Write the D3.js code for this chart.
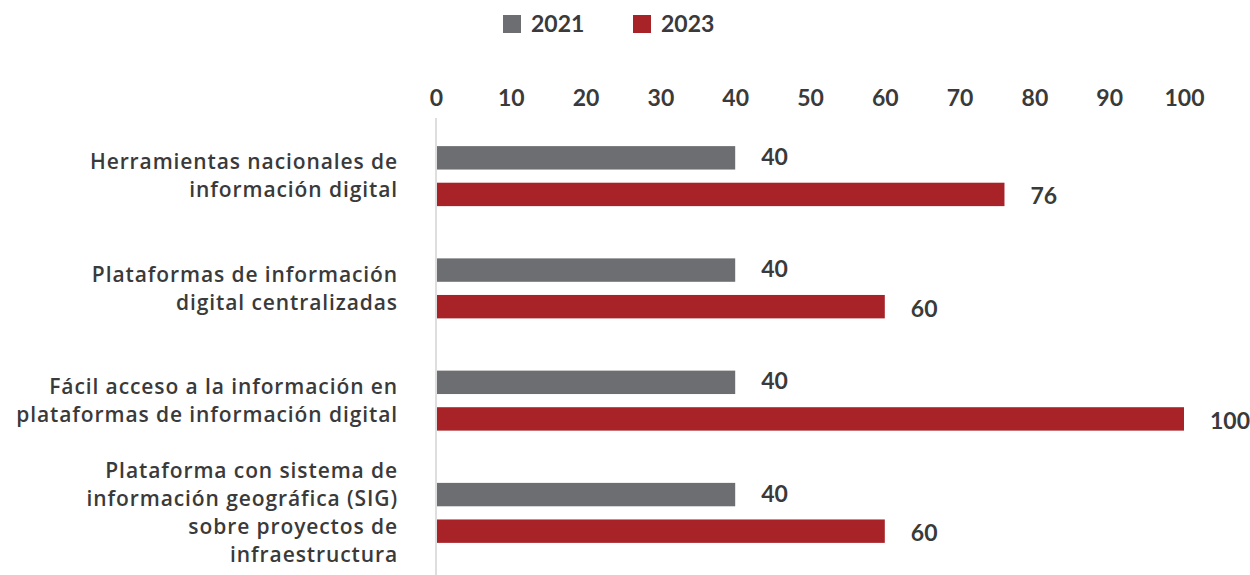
<!DOCTYPE html>
<html>
<head>
<meta charset="utf-8">
<script src="https://cdn.jsdelivr.net/npm/d3@7"></script>
<style>
  body { margin: 0; background: #fff; }
  svg text { font-family: Lato, "Open Sans", sans-serif; font-weight: 700; fill: #3a3a3a; }
  svg text.cat { font-family: "Open Sans", Lato, sans-serif; font-weight: 600; letter-spacing: 0.9px; }
</style>
</head>
<body>
<svg width="1250" height="575"></svg>
<script>
// data
var categories = [
    ["Herramientas nacionales de", "información digital"],
    ["Plataformas de información", "digital centralizadas"],
    ["Fácil acceso a la información en", "plataformas de información digital"],
    ["Plataforma con sistema de", "información geográfica (SIG)", "sobre proyectos de", "infraestructura"]
];
var seriesNames = ["2021", "2023"];
var values2021 = [40, 40, 40, 40];
var values2023 = [76, 60, 100, 60];
var tickValues = [0, 10, 20, 30, 40, 50, 60, 70, 80, 90, 100];
var colors = ["#6d6e71", "#a82328"];

(function() {
    var svg = d3.select("svg"),
        plotLeft = 436,
        plotRight = 1184,
        plotTop = 120,
        plotBottom = 569,
        numFs = "23px",
        catFs = "21px";

    var x = d3.scaleLinear().domain([0, 100]).range([plotLeft, plotRight]);
    var y = d3.scaleBand().domain(d3.range(categories.length)).range([plotTop, plotBottom]);
    var inner = d3.scaleBand().domain(seriesNames)
        .range([y.bandwidth() / 2 - 30, y.bandwidth() / 2 + 30])
        .paddingInner(0.36).paddingOuter(0);

    // top axis
    var axis = svg.append("g")
        .attr("transform", "translate(0,106)")
        .call(d3.axisTop(x).tickValues(tickValues).tickSize(0).tickPadding(0));
    axis.select(".domain").remove();
    axis.selectAll("text").style("font-size", numFs).attr("fill", "#3a3a3a");

    // vertical baseline
    svg.append("line")
        .attr("x1", x(0)).attr("x2", x(0))
        .attr("y1", 118).attr("y2", 575)
        .attr("stroke", "#c8c8c8").attr("stroke-width", 1.2);

    var data = categories.map(function(c, i) {
        return { i: i, vals: [values2021[i], values2023[i]] };
    });

    var groups = svg.append("g").selectAll("g")
        .data(data).enter().append("g")
        .attr("transform", function(d) { return "translate(0," + y(d.i) + ")"; });

    groups.selectAll("rect")
        .data(function(d) { return d.vals.map(function(v, k) { return { v: v, s: seriesNames[k], k: k }; }); })
        .enter().append("rect")
        .attr("x", x(0) + 1)
        .attr("y", function(d) { return inner(d.s); })
        .attr("width", function(d) { return x(d.v) - x(0) - 1; })
        .attr("height", inner.bandwidth())
        .attr("fill", function(d) { return colors[d.k]; });

    groups.selectAll("text.val")
        .data(function(d) { return d.vals.map(function(v, k) { return { v: v, s: seriesNames[k] }; }); })
        .enter().append("text")
        .attr("class", "val")
        .attr("x", function(d) { return x(d.v) + 26; })
        .attr("y", function(d) { return inner(d.s) + inner.bandwidth() / 2 + (d.s === "2023" ? 2 : -1); })
        .attr("dy", "0.35em")
        .style("font-size", numFs)
        .text(function(d) { return d.v; });

    // category labels
    var lineH = 28;
    groups.append("text")
        .attr("class", "cat")
        .attr("text-anchor", "end")
        .style("font-size", catFs)
        .each(function(d) {
            var lines = categories[d.i];
            var t = d3.select(this);
            var y0 = y.bandwidth() / 2 - (lines.length - 1) * lineH / 2;
            lines.forEach(function(l, j) {
                t.append("tspan")
                    .attr("x", 398)
                    .attr("y", y0 + j * lineH)
                    .attr("dy", "0.35em")
                    .text(l);
            });
        });

    // legend
    var legend = svg.append("g").attr("transform", "translate(503,15)");
    seriesNames.forEach(function(s, k) {
        var g = legend.append("g").attr("transform", "translate(" + (k * 130) + ",0)");
        g.append("rect").attr("width", 18).attr("height", 18).attr("fill", colors[k]);
        g.append("text").attr("x", 28).attr("y", 9).attr("dy", "0.35em")
            .style("font-size", numFs).text(s);
    });
})();
</script>
</body>
</html>
